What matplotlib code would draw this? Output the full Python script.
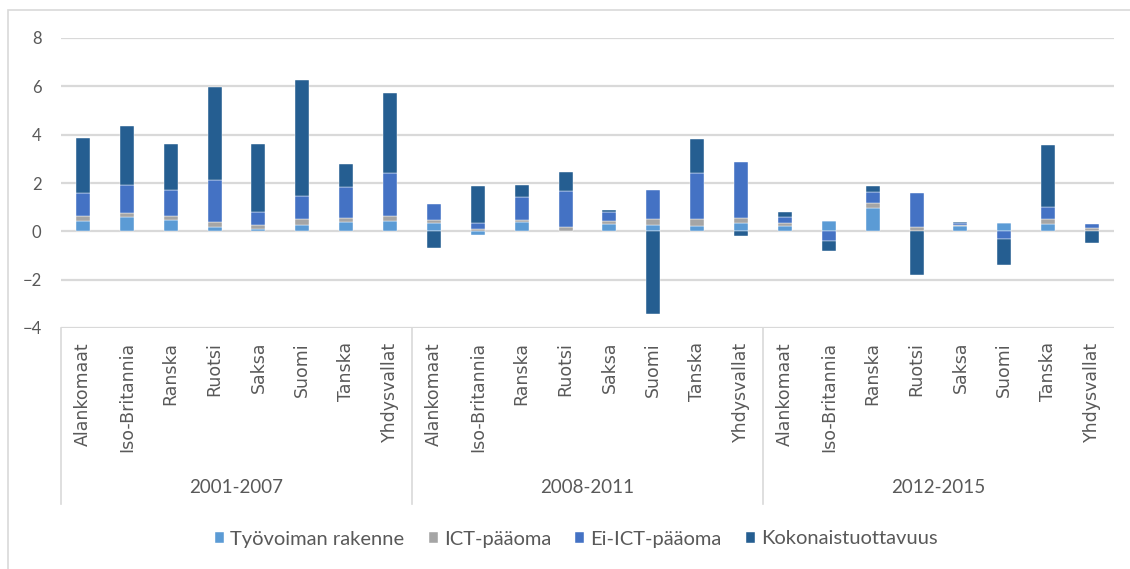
import numpy as np
import matplotlib
matplotlib.use("Agg")
import matplotlib.pyplot as plt
from matplotlib.patches import Rectangle
from matplotlib.lines import Line2D

plt.rcParams['font.family'] = ['Lato', 'DejaVu Sans']

# Maat ja jaksot
maat = ["Alankomaat", "Iso-Britannia", "Ranska", "Ruotsi", "Saksa", "Suomi", "Tanska", "Yhdysvallat"]
jaksot = ["2001-2007", "2008-2011", "2012-2015"]

# Kasvun lähteet, prosenttiyksikköä (jakso 1, jakso 2, jakso 3 peräkkäin)
tyovoima = [0.41, 0.61, 0.47, 0.17, 0.10, 0.26, 0.37, 0.41,
            0.36, -0.15, 0.37, 0.02, 0.32, 0.26, 0.22, 0.34,
            0.23, 0.41, 0.97, 0.02, 0.24, 0.34, 0.32, 0.03]
ict = [0.21, 0.16, 0.15, 0.20, 0.16, 0.25, 0.20, 0.21,
       0.11, 0.09, 0.10, 0.15, 0.09, 0.25, 0.29, 0.23,
       0.13, 0.02, 0.20, 0.14, 0.02, 0.02, 0.19, 0.10]
ei_ict = [0.95, 1.15, 1.09, 1.74, 0.55, 0.95, 1.25, 1.79,
          0.65, 0.25, 0.95, 1.50, 0.38, 1.20, 1.90, 2.29,
          0.25, -0.42, 0.44, 1.44, 0.08, -0.32, 0.50, 0.18]
koko = [2.29, 2.44, 1.90, 3.85, 2.80, 4.79, 0.95, 3.30,
        -0.68, 1.54, 0.50, 0.80, 0.08, -3.42, 1.41, -0.19,
        0.20, -0.39, 0.27, -1.79, 0.06, -1.09, 2.55, -0.50]

sarjat = ["Työvoiman rakenne", "ICT-pääoma", "Ei-ICT-pääoma", "Kokonaistuottavuus"]
varit = ["#5B9BD5", "#A5A5A5", "#4472C4", "#255E91"]
tekstivari = "#595959"

fig = plt.figure(figsize=(11.3, 5.69), dpi=100)
ax = fig.add_axes([61 / 1130, 241 / 569, 1053 / 1130, 290 / 569])

n = len(maat) * len(jaksot)
x = np.arange(n)
pos_pohja = np.zeros(n)
neg_pohja = np.zeros(n)

# Pinotaan positiiviset ylös ja negatiiviset alas kuten Excelissä
for arvot, vari, nimi in zip([tyovoima, ict, ei_ict, koko], varit, sarjat):
    a = np.array(arvot)
    pohja = np.where(a >= 0, pos_pohja, neg_pohja)
    ax.bar(x, a, bottom=pohja, width=0.32, color=vari, label=nimi, zorder=3,
           edgecolor="#ffffff", linewidth=0.3)
    pos_pohja += np.where(a >= 0, a, 0)
    neg_pohja += np.where(a < 0, a, 0)

ax.set_xlim(-0.5, n - 0.5)
ax.set_ylim(-4, 8)
ax.set_yticks(np.arange(-4, 9, 2))
ax.yaxis.grid(True, color="#D9D9D9", linewidth=1.6, zorder=0)
ax.set_axisbelow(True)
for s in ax.spines.values():
    s.set_visible(False)
ax.tick_params(axis="y", length=0, pad=14, labelsize=12, labelcolor=tekstivari)

ax.set_xticks(x)
ax.set_xticklabels(maat * len(jaksot), rotation=90, va="top", ha="center",
                   family="DejaVu Sans")
ax.tick_params(axis="x", length=0, pad=10, labelsize=12.5, labelcolor=tekstivari)

# Jaksojen erotinviivat ja nimet
for i in range(len(jaksot)):
    xr = i * len(maat) - 0.5
    ax.add_line(Line2D([xr, xr], [-4, -11.3], color="#D9D9D9", linewidth=1.2,
                       clip_on=False))
    ax.text(i * len(maat) + (len(maat) - 1) / 2, -10.6, jaksot[i], ha="center",
            va="center", fontsize=13.5, color=tekstivari)

fig.legend(loc="center", bbox_to_anchor=(0.51, 1 - 539 / 569), ncol=4,
           frameon=False, fontsize=14.5, handlelength=0.45, handleheight=0.45,
           handletextpad=0.3, columnspacing=1.2, labelcolor=tekstivari)

# Kaavioalueen reunus
fig.patches.append(Rectangle((8 / 1130, -0.01), 1.1, 1 - 10 / 569 + 0.01,
                             transform=fig.transFigure, fill=False,
                             edgecolor="#D9D9D9", linewidth=1.2))

fig.savefig("out.png", dpi=100)
